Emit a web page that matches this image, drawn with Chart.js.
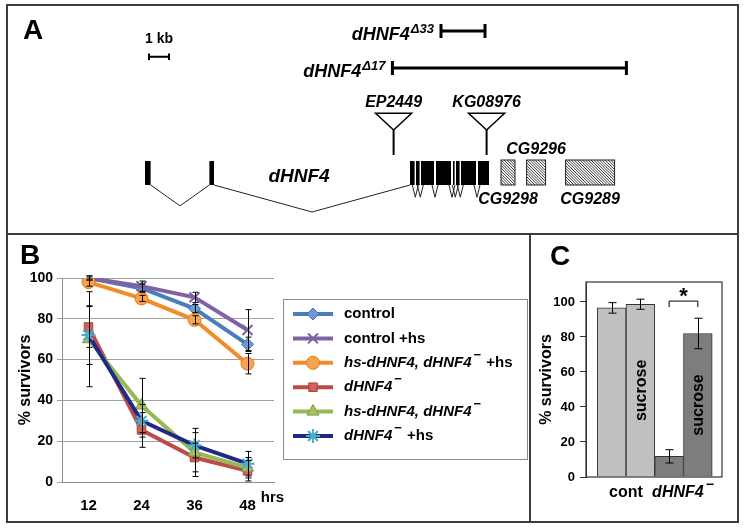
<!DOCTYPE html>
<html>
<head>
<meta charset="utf-8">
<script src="https://cdn.jsdelivr.net/npm/chart.js@4.4.0/dist/chart.umd.min.js"></script>
<style>
  body { margin: 0; background: #fff; }
  #fig { position: relative; width: 745px; height: 528px; font-family: "Liberation Sans", Arial, sans-serif; }
  .frame { position: absolute; border: 2px solid #3c3c3c; box-sizing: border-box; }
  .rule { position: absolute; background: #3c3c3c; }
  .tag { position: absolute; font-weight: bold; font-size: 28px; line-height: 1; }
  canvas { position: absolute; }
</style>
</head>
<body>
<div id="fig">
  <div class="frame" style="left:6px;top:4px;width:733px;height:519px"></div>
  <div class="rule" style="left:6px;top:233px;width:733px;height:2px"></div>
  <div class="rule" style="left:529px;top:233px;width:2px;height:290px"></div>
  <canvas id="geneMap" width="729" height="227" style="left:8px;top:6px"></canvas>
  <canvas id="survival" width="521" height="286" style="left:8px;top:235px"></canvas>
  <canvas id="sucrose" width="206" height="286" style="left:531px;top:235px"></canvas>
  <div class="tag" style="left:23px;top:16px">A</div>
  <div class="tag" style="left:20px;top:241px">B</div>
  <div class="tag" style="left:550px;top:242px">C</div>
</div>
<script>
// ---- panel A: dHNF4 locus, positions in kb ----
const exonStart = [0, 3.22, 13.25, 13.55, 13.8, 14.55, 15.4, 15.55, 15.8, 16.65];
const exonEnd = [0.28, 3.45, 13.48, 13.73, 14.45, 15.3, 15.48, 15.73, 16.55, 17.2];
const neighborGenes = ['CG9298', 'CG9296', 'CG9289'];
const neighborStart = [17.8, 19.08, 21.03];
const neighborEnd = [18.5, 20.03, 23.48];
const insertionNames = ['EP2449', 'KG08976'];
const insertionPos = [12.43, 17.08];
const deletionNames = ['Δ33', 'Δ17'];
const deletionStart = [14.8, 12.37];
const deletionEnd = [17.0, 24.07];

// ---- panel B: survival over time ----
const hours = ['12', '24', '36', '48'];
const hourUnit = 'hrs';
const seriesNames = ['control', 'control +hs', 'hs-dHNF4, dHNF4− +hs', 'dHNF4−', 'hs-dHNF4, dHNF4−', 'dHNF4− +hs'];
const control = [100, 95, 85, 67.5];
const controlErr = [1, 2, 2, 3.5];
const controlHs = [100, 96, 90.5, 74.5];
const controlHsErr = [1, 2.5, 2.5, 10];
const rescueHs = [98, 90, 79.5, 58];
const rescueHsErr = [2, 1.5, 2, 5];
const mutant = [76, 25.5, 12, 5.5];
const mutantErr = [10, 8.5, 7, 5];
const rescue = [70, 37.5, 14.5, 7];
const rescueErr = [23.3, 13.3, 11.8, 5];
const mutantHs = [72, 30, 18, 9];
const mutantHsErr = [14.4, 8, 6.2, 6];
const survivalTicks = [0, 20, 40, 60, 80, 100];

// ---- panel C: sucrose rescue ----
const conditions = ['cont', 'dHNF4−'];
const noSucrose = [96.6, 11.8];
const noSucroseErr = [3, 3.8];
const withSucrose = [98.7, 82];
const withSucroseErr = [2.9, 8.7];
const sucroseText = 'sucrose';
const starLevel = 100.5;

const FONT = '"Liberation Sans", Arial, sans-serif';
Chart.defaults.font.family = FONT;
Chart.defaults.color = '#000';

// bold text, gene names (HNF4) italic, trailing − raised
function drawRichLabel(ctx, text, x, y, size, align) {
  const parts = [];
  text.split(' ').forEach((word, k) => {
    if (k > 0) parts.push({ t: ' ' });
    const it = word.includes('HNF4');
    if (word.endsWith('−')) {
      parts.push({ t: word.slice(0, -1), it });
      parts.push({ t: '−', sup: true });
    } else {
      parts.push({ t: word, it });
    }
  });
  const fontFor = p => (p.it ? 'italic ' : '') + 'bold ' + (p.sup ? Math.round(size * 0.85) : size) + 'px ' + FONT;
  let total = 0;
  parts.forEach(p => {
    ctx.font = fontFor(p);
    p.w = ctx.measureText(p.t).width + (p.sup ? 3 : 0);
    total += p.w;
  });
  let cx = align === 'center' ? x - total / 2 : x;
  ctx.save();
  ctx.fillStyle = '#000';
  ctx.textAlign = 'left';
  ctx.textBaseline = 'middle';
  parts.forEach(p => {
    ctx.font = fontFor(p);
    ctx.fillText(p.t, p.sup ? cx + 2 : cx, p.sup ? y - size * 0.5 : y);
    cx += p.w;
  });
  ctx.restore();
}

// ---------------- A ----------------
const geneMapPlugin = {
  id: 'geneMap',
  afterDraw(chart) {
    const ctx = chart.ctx;
    const X = v => chart.scales.x.getPixelForValue(v);
    const Y = v => chart.scales.y.getPixelForValue(v);
    const exonTop = Y(155), exonBottom = Y(179);
    ctx.save();
    ctx.fillStyle = '#000';
    ctx.strokeStyle = '#000';

    // scale bar
    ctx.lineWidth = 2;
    ctx.beginPath();
    ctx.moveTo(X(0.2), Y(50.7)); ctx.lineTo(X(1.2), Y(50.7));
    ctx.moveTo(X(0.2), Y(47.5)); ctx.lineTo(X(0.2), Y(54));
    ctx.moveTo(X(1.2), Y(47.5)); ctx.lineTo(X(1.2), Y(54));
    ctx.stroke();
    ctx.font = 'bold 14px ' + FONT;
    ctx.textAlign = 'center';
    ctx.textBaseline = 'alphabetic';
    ctx.fillText('1 kb', X(0.7), Y(37.3));

    // deletions
    const delRow = [25, 62], delBase = [34, 71];
    deletionNames.forEach((d, i) => {
      const r = Y(delRow[i]);
      ctx.lineWidth = 3;
      ctx.beginPath();
      ctx.moveTo(X(deletionStart[i]), r); ctx.lineTo(X(deletionEnd[i]), r);
      ctx.moveTo(X(deletionStart[i]), r - 7); ctx.lineTo(X(deletionStart[i]), r + 7);
      ctx.moveTo(X(deletionEnd[i]), r - 7); ctx.lineTo(X(deletionEnd[i]), r + 7);
      ctx.stroke();
      ctx.font = 'italic bold 13px ' + FONT;
      const supW = ctx.measureText(d).width;
      const right = X(deletionStart[i]) - 7;
      ctx.textAlign = 'left';
      ctx.fillText(d, right - supW, Y(delBase[i] - 7));
      ctx.font = 'italic bold 18px ' + FONT;
      ctx.textAlign = 'right';
      ctx.fillText('dHNF4', right - supW - 1, Y(delBase[i]));
    });

    // transposon insertions
    insertionNames.forEach((n, i) => {
      const px = X(insertionPos[i]);
      ctx.lineWidth = 1.5;
      ctx.beginPath();
      ctx.moveTo(px - 18, Y(107.3)); ctx.lineTo(px + 18, Y(107.3)); ctx.lineTo(px, Y(124)); ctx.closePath();
      ctx.stroke();
      ctx.lineWidth = 2;
      ctx.beginPath();
      ctx.moveTo(px, Y(124)); ctx.lineTo(px, Y(149));
      ctx.stroke();
      ctx.font = 'italic bold 16px ' + FONT;
      ctx.textAlign = 'center';
      ctx.fillText(n, px, Y(101));
    });

    // introns
    ctx.lineWidth = 1;
    ctx.strokeStyle = '#222';
    for (let i = 0; i < exonStart.length - 1; i++) {
      const a = exonEnd[i], b = exonStart[i + 1];
      const depth = Math.min(27, 12 + (b - a) * 3);
      let xa = X(a), xb = X(b);
      if (xb - xa < 6) { const m = (xa + xb) / 2; xa = m - 3; xb = m + 3; }
      ctx.beginPath();
      ctx.moveTo(xa, exonBottom);
      ctx.lineTo((xa + xb) / 2, exonBottom + depth);
      ctx.lineTo(xb, exonBottom);
      ctx.stroke();
    }
    // exons
    exonStart.forEach((s, i) => {
      const x0 = X(s), w = Math.max(1, X(exonEnd[i]) - x0);
      ctx.fillRect(x0, exonTop, w, exonBottom - exonTop);
    });
    ctx.font = 'italic bold 19px ' + FONT;
    ctx.textAlign = 'center';
    ctx.fillText('dHNF4', X(7.7), Y(175.7));

    // neighbouring genes, hatched
    neighborGenes.forEach((g, i) => {
      const x0 = X(neighborStart[i]), x1 = X(neighborEnd[i]);
      const t = Y(154), h = Y(179) - t;
      ctx.save();
      ctx.beginPath();
      ctx.rect(x0, t, x1 - x0, h);
      ctx.clip();
      ctx.lineWidth = 0.9;
      ctx.beginPath();
      for (let k = -h; k < x1 - x0; k += 2.8) {
        ctx.moveTo(x0 + k, t); ctx.lineTo(x0 + k + h, t + h);
      }
      ctx.stroke();
      ctx.restore();
      ctx.lineWidth = 1;
      ctx.strokeRect(x0, t, x1 - x0, h);
      ctx.font = 'italic bold 16px ' + FONT;
      ctx.textAlign = 'center';
      ctx.fillText(g, (x0 + x1) / 2, Y(i === 1 ? 148 : 198));
    });
    ctx.restore();
  }
};

new Chart(document.getElementById('geneMap'), {
  type: 'scatter',
  data: { datasets: [] },
  options: {
    responsive: false,
    animation: false,
    layout: { padding: 0 },
    plugins: { legend: { display: false }, tooltip: { enabled: false } },
    scales: {
      x: { type: 'linear', display: false, min: -6.85, max: 29.6 },
      y: { type: 'linear', display: false, min: 0, max: 227, reverse: true }
    }
  },
  plugins: [geneMapPlugin]
});

// ---------------- B ----------------
const seriesValues = [control, controlHs, rescueHs, mutant, rescue, mutantHs];
const seriesErrors = [controlErr, controlHsErr, rescueHsErr, mutantErr, rescueErr, mutantHsErr];
const lineColors = ['#4a7ebb', '#7e62a3', '#f28c28', '#be4b48', '#98b954', '#1f2a86'];
const markerStyles = [
  { pointStyle: 'rectRot', pointRadius: 6, pointBackgroundColor: '#6b9bd6', pointBorderColor: '#3e6fae', pointBorderWidth: 1 },
  { pointStyle: 'crossRot', pointRadius: 7, pointBackgroundColor: '#7e62a3', pointBorderColor: '#7e62a3', pointBorderWidth: 2 },
  { pointStyle: 'circle', pointRadius: 6.5, pointBackgroundColor: '#f9a24f', pointBorderColor: '#e07b1a', pointBorderWidth: 1 },
  { pointStyle: 'rect', pointRadius: 6, pointBackgroundColor: '#d2605b', pointBorderColor: '#a93e3b', pointBorderWidth: 1 },
  { pointStyle: 'triangle', pointRadius: 7, pointBackgroundColor: '#a5c25f', pointBorderColor: '#7f9c42', pointBorderWidth: 1 },
  { pointStyle: 'star', pointRadius: 7, pointBackgroundColor: '#4bacc6', pointBorderColor: '#4bacc6', pointBorderWidth: 2 }
];

const survivalDatasets = seriesNames.map((name, i) => Object.assign({
  label: name,
  data: seriesValues[i],
  borderColor: lineColors[i],
  borderWidth: 4,
  tension: 0,
  order: seriesNames.length - 1 - i
}, markerStyles[i]));

const survivalExtras = {
  id: 'survivalExtras',
  afterDatasetsDraw(chart) {
    const ctx = chart.ctx, y = chart.scales.y;
    ctx.save();
    ctx.strokeStyle = '#000';
    ctx.lineWidth = 1;
    seriesValues.forEach((vals, i) => {
      const meta = chart.getDatasetMeta(i);
      vals.forEach((v, j) => {
        const e = seriesErrors[i][j];
        if (!e) return;
        const px = Math.round(meta.data[j].x) + 0.5;
        const top = y.getPixelForValue(v + e), bot = y.getPixelForValue(v - e);
        ctx.beginPath();
        ctx.moveTo(px, top); ctx.lineTo(px, bot);
        ctx.moveTo(px - 3, top); ctx.lineTo(px + 3, top);
        ctx.moveTo(px - 3, bot); ctx.lineTo(px + 3, bot);
        ctx.stroke();
      });
    });
    ctx.restore();
  },
  afterDraw(chart) {
    const ctx = chart.ctx, x = chart.scales.x;
    ctx.save();
    // unit after last tick
    ctx.font = 'bold 15px ' + FONT;
    ctx.fillStyle = '#000';
    ctx.textBaseline = 'middle';
    ctx.textAlign = 'left';
    const last = hours.length - 1;
    const lw = ctx.measureText(hours[last]).width;
    ctx.fillText(hourUnit, x.getPixelForValue(last) + lw / 2 + 5, 263);

    // legend
    const L = 275, T = 64, R = 519, B = 224;
    ctx.fillStyle = '#fff';
    ctx.fillRect(L, T, R - L, B - T);
    ctx.strokeStyle = '#8a8a8a';
    ctx.lineWidth = 1;
    ctx.strokeRect(L + 0.5, T + 0.5, R - L, B - T);
    seriesNames.forEach((name, i) => {
      const ry = 79 + i * 24.4;
      ctx.strokeStyle = lineColors[i];
      ctx.lineWidth = 4;
      ctx.beginPath();
      ctx.moveTo(285, ry); ctx.lineTo(325, ry);
      ctx.stroke();
      const m = markerStyles[i];
      ctx.fillStyle = m.pointBackgroundColor;
      ctx.strokeStyle = m.pointBorderColor;
      ctx.lineWidth = m.pointBorderWidth;
      Chart.helpers.drawPoint(ctx, { pointStyle: m.pointStyle, radius: m.pointRadius, rotation: 0, borderWidth: m.pointBorderWidth }, 305, ry);
      drawRichLabel(ctx, name, 336, ry, 15, 'left');
    });
    ctx.restore();
  }
};

new Chart(document.getElementById('survival'), {
  type: 'line',
  data: { labels: hours, datasets: survivalDatasets },
  options: {
    responsive: false,
    animation: false,
    layout: { padding: { left: 0, right: 255, top: 43, bottom: 8 } },
    plugins: { legend: { display: false }, tooltip: { enabled: false } },
    scales: {
      x: {
        offset: true,
        grid: { display: false },
        border: { color: '#8c8c8c', width: 1 },
        ticks: { font: { size: 15, weight: 'bold' }, padding: 7, maxRotation: 0 },
        afterFit: s => { s.height = 31; }
      },
      y: {
        min: 0,
        max: 100,
        afterBuildTicks: s => { s.ticks = survivalTicks.map(v => ({ value: v })); },
        ticks: { font: { size: 14, weight: 'bold' }, padding: 4 },
        grid: { color: '#a0a0a0', tickLength: 5 },
        border: { color: '#8c8c8c', width: 1 },
        title: { display: true, text: '% survivors', font: { size: 16, weight: 'bold' }, padding: { top: 8, bottom: 0 } },
        afterFit: s => { s.width = 54; }
      }
    }
  },
  plugins: [survivalExtras]
});

// ---------------- C ----------------
const barFill = ['#c0c0c0', '#7d7d7d'];
const sucroseExtras = {
  id: 'sucroseExtras',
  afterDraw(chart) {
    const ctx = chart.ctx, y = chart.scales.y, x = chart.scales.x, a = chart.chartArea;
    ctx.save();
    ctx.strokeStyle = '#333';
    ctx.lineWidth = 1.2;
    ctx.strokeRect(a.left, a.top, a.right - a.left, a.bottom - a.top);

    // error bars
    ctx.strokeStyle = '#000';
    ctx.lineWidth = 1;
    [noSucroseErr, withSucroseErr].forEach((errs, d) => {
      const meta = chart.getDatasetMeta(d);
      const vals = d === 0 ? noSucrose : withSucrose;
      errs.forEach((e, j) => {
        const px = Math.round(meta.data[j].x) + 0.5;
        const top = y.getPixelForValue(vals[j] + e), bot = y.getPixelForValue(vals[j] - e);
        ctx.beginPath();
        ctx.moveTo(px, top); ctx.lineTo(px, bot);
        ctx.moveTo(px - 4, top); ctx.lineTo(px + 4, top);
        ctx.moveTo(px - 4, bot); ctx.lineTo(px + 4, bot);
        ctx.stroke();
      });
    });

    // "sucrose" inside sucrose bars
    const sm = chart.getDatasetMeta(1);
    sm.data.forEach(bar => {
      ctx.save();
      ctx.translate(bar.x, (bar.y + bar.base) / 2);
      ctx.rotate(-Math.PI / 2);
      ctx.font = 'bold 16px ' + FONT;
      ctx.fillStyle = '#000';
      ctx.textAlign = 'center';
      ctx.textBaseline = 'middle';
      ctx.fillText(sucroseText, 0, 1);
      ctx.restore();
    });

    // significance bracket over the mutant pair
    const x0 = chart.getDatasetMeta(0).data[1].x, x1 = sm.data[1].x;
    const by = y.getPixelForValue(starLevel);
    ctx.lineWidth = 1;
    ctx.beginPath();
    ctx.moveTo(x0, by + 6); ctx.lineTo(x0, by); ctx.lineTo(x1, by); ctx.lineTo(x1, by + 6);
    ctx.stroke();
    ctx.font = 'bold 22px ' + FONT;
    ctx.fillStyle = '#000';
    ctx.textAlign = 'center';
    ctx.textBaseline = 'alphabetic';
    ctx.fillText('*', (x0 + x1) / 2, by + 2);

    // category labels
    conditions.forEach((c, i) => {
      drawRichLabel(ctx, c, x.getPixelForValue(i), 258, 16, 'center');
    });
    ctx.restore();
  }
};

new Chart(document.getElementById('sucrose'), {
  type: 'bar',
  data: {
    datasets: [
      { label: 'no sucrose', data: noSucrose.map((v, i) => ({ x: i, y: v })), backgroundColor: barFill, borderColor: '#333', borderWidth: 1, categoryPercentage: 1, barPercentage: 1 },
      { label: 'sucrose', data: withSucrose.map((v, i) => ({ x: i, y: v })), backgroundColor: barFill, borderColor: '#333', borderWidth: 1, categoryPercentage: 1, barPercentage: 1 }
    ]
  },
  options: {
    responsive: false,
    animation: false,
    layout: { padding: { left: 0, right: 15, top: 47, bottom: 8 } },
    plugins: { legend: { display: false }, tooltip: { enabled: false } },
    scales: {
      x: {
        type: 'linear',
        offset: false,
        min: -0.696,
        max: 1.67,
        afterBuildTicks: s => { s.ticks = conditions.map((c, i) => ({ value: i })); },
        ticks: { display: false },
        grid: { display: false, offset: false },
        border: { display: false },
        afterFit: s => { s.height = 36; }
      },
      y: {
        min: 0,
        max: 111.4,
        afterBuildTicks: s => { s.ticks = survivalTicks.map(v => ({ value: v })); },
        ticks: { font: { size: 13, weight: 'bold' }, padding: 5 },
        grid: { drawOnChartArea: false, tickLength: 6, color: '#333' },
        border: { color: '#333', width: 1 },
        title: { display: true, text: '% survivors', font: { size: 16, weight: 'bold' }, padding: { top: 6, bottom: 0 } },
        afterFit: s => { s.width = 55; }
      }
    }
  },
  plugins: [sucroseExtras]
});
</script>
</body>
</html>
